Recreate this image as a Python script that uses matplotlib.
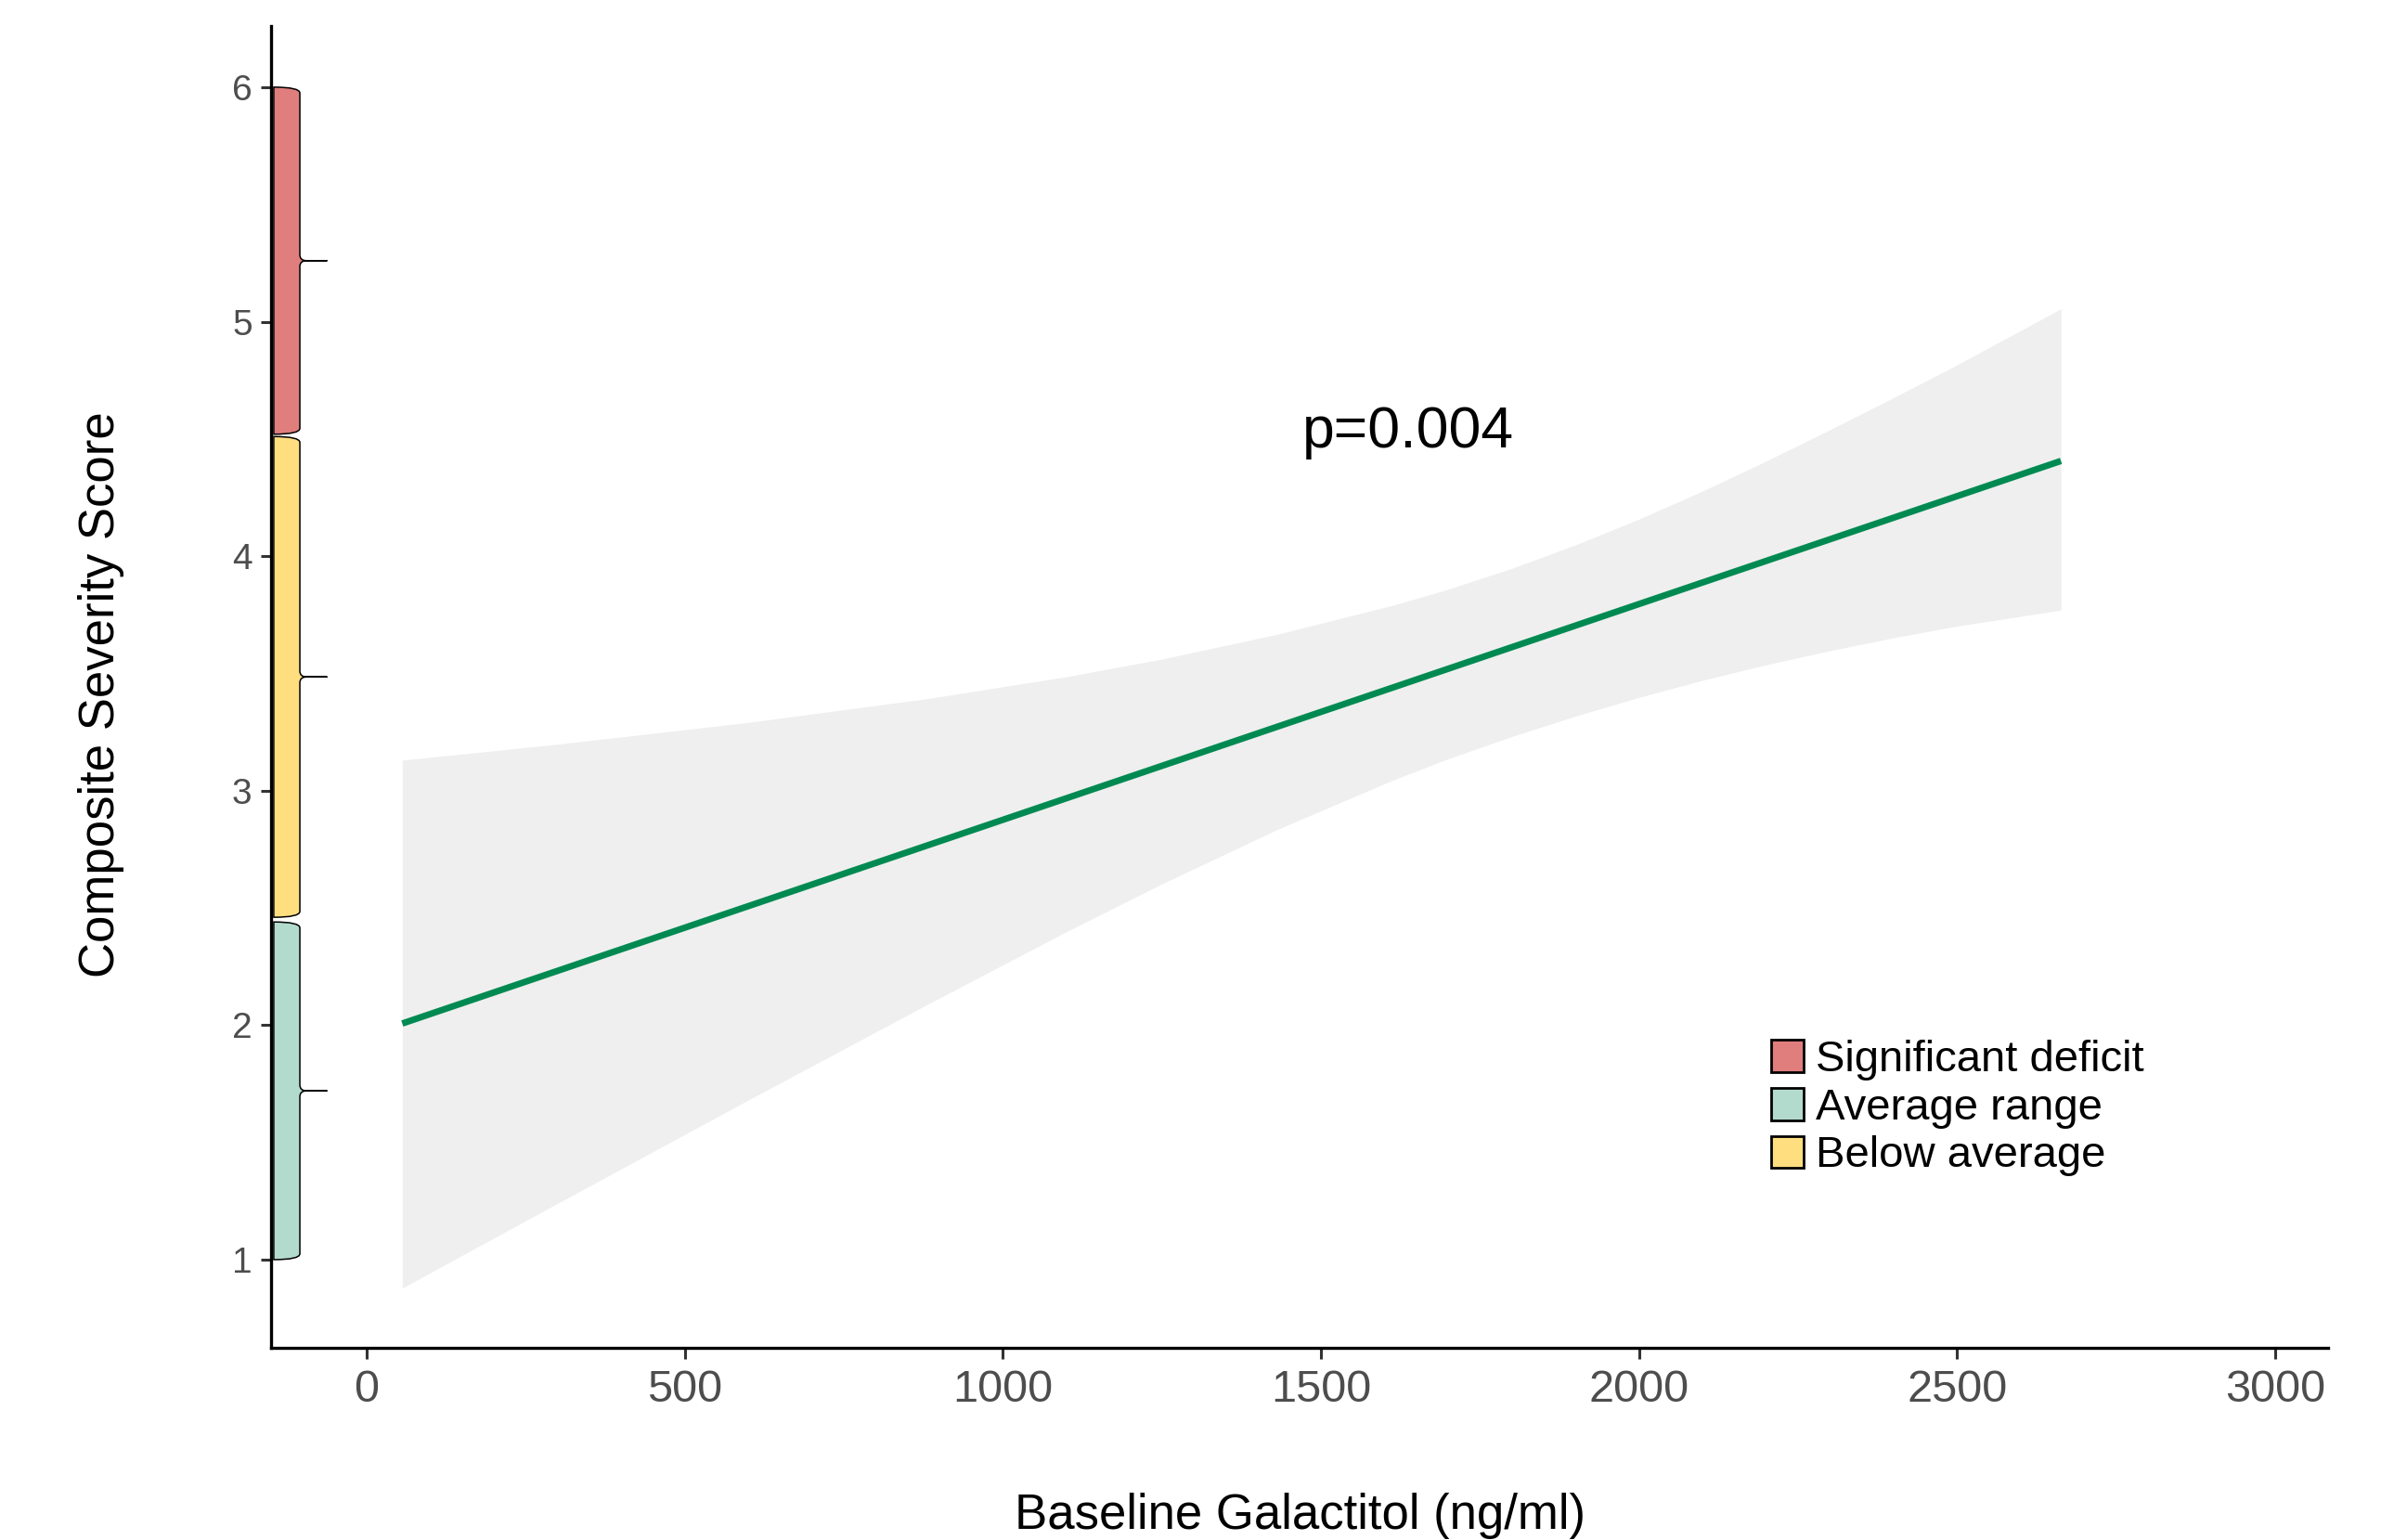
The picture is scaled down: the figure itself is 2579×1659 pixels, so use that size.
import matplotlib
matplotlib.use("Agg")
import matplotlib.pyplot as plt
from matplotlib.patches import Patch, PathPatch
from matplotlib.path import Path

plt.rcParams['font.family'] = ['Liberation Sans', 'DejaVu Sans']

# fitted line and its confidence band
fit_x = [56, 2663]
fit_y = [2.007, 4.406]

band_x = [56, 300, 600, 883, 1100, 1248, 1430, 1612, 1700, 1800, 1900, 2000,
          2100, 2200, 2300, 2400, 2500, 2663]
band_hi = [3.13, 3.198, 3.291, 3.393, 3.486, 3.56, 3.666, 3.79, 3.859, 3.948, 4.048, 4.158,
           4.278, 4.406, 4.539, 4.676, 4.816, 5.055]
band_lo = [0.879, 1.24, 1.681, 2.091, 2.399, 2.60, 2.833, 3.044, 3.136, 3.231, 3.318, 3.398,
           3.471, 3.537, 3.597, 3.652, 3.702, 3.77]

# severity ranges shown as braces along the y axis
range_labels = ['Significant deficit', 'Average range', 'Below average']
range_colors = ['#E07D7D', '#B3DBCD', '#FFDE80']
range_lo = [4.52, 1.00, 2.46]
range_hi = [6.00, 2.44, 4.51]

p_text = 'p=0.004'
p_pos = (1637, 4.53)

x_ticks = [0, 500, 1000, 1500, 2000, 2500, 3000]
y_ticks = [1, 2, 3, 4, 5, 6]


def brace(lo, hi, x_left=-146, x_edge=-105, x_tip=-62, d=0.025):
    mid = (lo + hi) / 2
    nib = x_edge + 0.25 * (x_tip - x_edge)
    verts = [
        (x_left, hi),
        (x_edge, hi), (x_edge, hi - d),
        (x_edge, mid + d),
        (x_edge, mid), (nib, mid),
        (x_tip, mid),
        (nib, mid),
        (x_edge, mid), (x_edge, mid - d),
        (x_edge, lo + d),
        (x_edge, lo), (x_left, lo),
        (x_left, hi),
    ]
    codes = [Path.MOVETO,
             Path.CURVE3, Path.CURVE3,
             Path.LINETO,
             Path.CURVE3, Path.CURVE3,
             Path.LINETO,
             Path.LINETO,
             Path.CURVE3, Path.CURVE3,
             Path.LINETO,
             Path.CURVE3, Path.CURVE3,
             Path.CLOSEPOLY]
    return Path(verts, codes)


fig = plt.figure(figsize=(25.79, 16.59), dpi=100)
ax = fig.add_axes([0.1134, 0.1248, 0.8591, 0.8582])

ax.fill_between(band_x, band_lo, band_hi, color='#EFEFEF', lw=0, zorder=1)
ax.plot(fit_x, fit_y, color='#008A52', lw=5.0, solid_capstyle='butt', zorder=2)

for lo, hi, col in zip(range_lo, range_hi, range_colors):
    ax.add_patch(PathPatch(brace(lo, hi), facecolor=col, edgecolor='black',
                           lw=1.1, zorder=3))

ax.text(p_pos[0], p_pos[1], p_text, fontsize=45, ha='center', va='center')

ax.set_xlim(-149.6, 3083)
ax.set_ylim(0.624, 6.26)
ax.set_xticks(x_ticks)
ax.set_yticks(y_ticks)

for s in ['top', 'right']:
    ax.spines[s].set_visible(False)
for s in ['left', 'bottom']:
    ax.spines[s].set_linewidth(2.4)
    ax.spines[s].set_color('black')

ax.tick_params(axis='x', labelsize=35, length=8.5, width=2.2, pad=8,
               color='#333333', labelcolor='#4D4D4D')
ax.tick_params(axis='y', labelsize=28, length=8, width=2.2, pad=7,
               color='#333333', labelcolor='#4D4D4D')

ax.set_xlabel('Baseline Galactitol (ng/ml)', fontsize=38, va='center')
ax.set_ylabel('Composite Severity Score', fontsize=38, va='center')
ax.xaxis.set_label_coords(0.5, -0.127)
ax.yaxis.set_label_coords(-0.0828, 0.4945)

handles = [Patch(facecolor=c, edgecolor='black', lw=2.0) for c in range_colors]
ax.legend(handles, range_labels, loc='upper left', bbox_to_anchor=(0.729, 0.233),
          frameon=False, fontsize=34, handlelength=0.75, handleheight=0.75,
          handletextpad=0.28, labelspacing=0.16, borderpad=0, borderaxespad=0)

fig.savefig('out.png', dpi=100)
